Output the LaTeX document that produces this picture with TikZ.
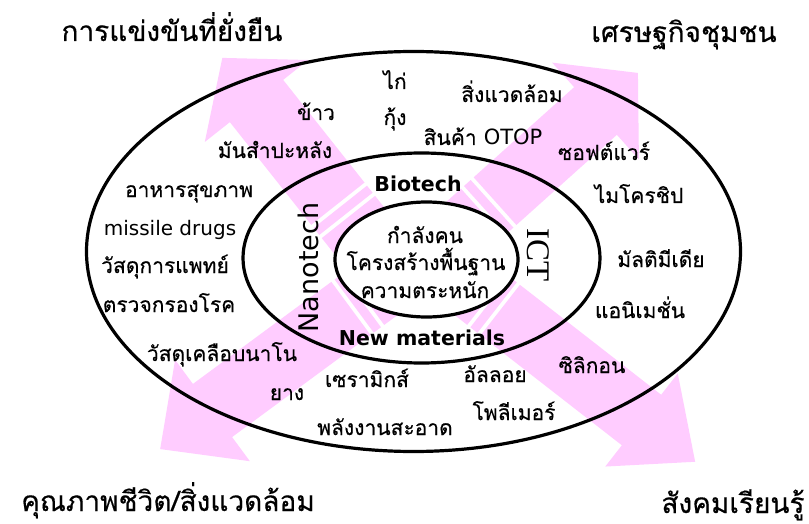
\documentclass[tikz,border=0pt]{standalone}
\usepackage{fontspec}
\newfontfamily\thai[Script=Thai, FakeBold=0.4]{Loma}
\newfontfamily\dv{DejaVu Sans}
\newfontfamily\ictfont{Liberation Serif}
\definecolor{arrowpink}{RGB}{255,204,255}
% #1,#2 head-base centre (px), #3 angle, #4 half body width, #5 half head width,
% #6 head length, #7 body length, #8 length of inner stripe
\newcommand\bigarrow[8]{%
  \begin{scope}[shift={(#1,-#2)}, rotate=#3]
    \fill[arrowpink] (#6,0) -- (0,#5) -- (0,#4) -- (-#7,#4) -- (-#7,-#4) -- (0,-#4) -- (0,-#5) -- cycle;
    \fill[arrowpink] (-#7-4,#4) rectangle (-#7-13,-#4);
    \fill[arrowpink] (-#7-17,#4) rectangle (-#7-17-#8,-#4);
  \end{scope}}
\begin{document}
\begin{tikzpicture}[x=1pt,y=1pt,
  ring/.style={draw=black, line width=3.2pt},
  th/.style={font=\thai\fontsize{21}{24}\selectfont, inner sep=0pt, anchor=base},
  hd/.style={font=\thai\fontsize{28}{32}\selectfont, inner sep=0pt, anchor=base},
  lat/.style={font=\dv\fontsize{20}{24}\selectfont, inner sep=0pt, anchor=base},
  bld/.style={font=\dv\bfseries\fontsize{20.5}{24}\selectfont, inner sep=0pt, anchor=base}]
\useasboundingbox (0,0) rectangle (809,-524);
\fill[white] (0,0) rectangle (809,-524);
% arrows
\bigarrow{256.5}{101}{128.4}{34}{66}{55}{131}{70}
\bigarrow{595.5}{111}{41.9}{32}{65}{57}{135}{70}
\bigarrow{212.5}{410.5}{216.4}{33}{63}{65}{172}{70}
\bigarrow{641.5}{420}{-37.9}{32}{59}{68}{179}{70}
% ellipses
\draw[ring] (413.5,-251.5) ellipse [x radius=327, y radius=200];
\draw[ring] (421.5,-258) ellipse [x radius=178.5, y radius=105];
\draw[ring, fill=white] (426.5,-259.5) ellipse [x radius=91.5, y radius=57.5];
% headings
\node[hd] (h1) at (172,-41) {การแข่งขันที่ยั่งยืน};
\node[hd] (h2) at (684,-42) {เศรษฐกิจชุมชน};
\node[hd] (h3) at (168,-511) {คุณภาพชีวิต/สิ่งแวดล้อม};
\node[hd] (h4) at (733,-513) {สังคมเรียนรู้};
% outer ring items
\node[th] (t1) at (395,-89) {ไก่};
\node[th] (t2) at (395,-125) {กุ้ง};
\node[th] (t3) at (512,-102) {สิ่งแวดล้อม};
\node[th] (t4) at (483,-145) {สินค้า {\dv OTOP}};
\node[th] (t5) at (316,-120) {ข้าว};
\node[th] (t6) at (275,-158) {มันสำปะหลัง};
\node[th] (t7) at (189,-197) {อาหารสุขภาพ};
\node[lat] (t8) at (170,-236) {missile drugs};
\node[th] (t9) at (165,-273) {วัสดุการแพทย์};
\node[th] (t10) at (169,-312) {ตรวจกรองโรค};
\node[th] (t11) at (222,-361) {วัสดุเคลือบนาโน};
\node[th] (t12) at (287,-400) {ยาง};
\node[th] (t13) at (367,-387) {เซรามิกส์};
\node[th] (t14) at (385,-435) {พลังงานสะอาด};
\node[th] (t15) at (495,-382) {อัลลอย};
\node[th] (t16) at (514,-420) {โพลีเมอร์};
\node[th] (t17) at (592,-373) {ซิลิกอน};
\node[th] (t18) at (640,-318) {แอนิเมชั่น};
\node[th] (t19) at (661,-267) {มัลติมีเดีย};
\node[th] (t20) at (639,-203) {ไมโครชิป};
\node[th] (t21) at (604,-160) {ซอฟต์แวร์};
% middle ring
\node[bld] (m1) at (418,-192) {Biotech};
\node[bld] (m2) at (422,-345) {New materials};
\node[lat, font=\dv\fontsize{27}{30}\selectfont, rotate=90] (m3) at (318,-267.5) {Nanotech};
\node[lat, font=\ictfont\fontsize{33}{36}\selectfont, rotate=-90] (m4) at (527,-255) {ICT};
% centre
\node[th] (c1) at (425,-243) {กำลังคน};
\node[th] (c2) at (426,-270) {โครงสร้างพื้นฐาน};
\node[th] (c3) at (425,-298) {ความตระหนัก};
\end{tikzpicture}
\end{document}
